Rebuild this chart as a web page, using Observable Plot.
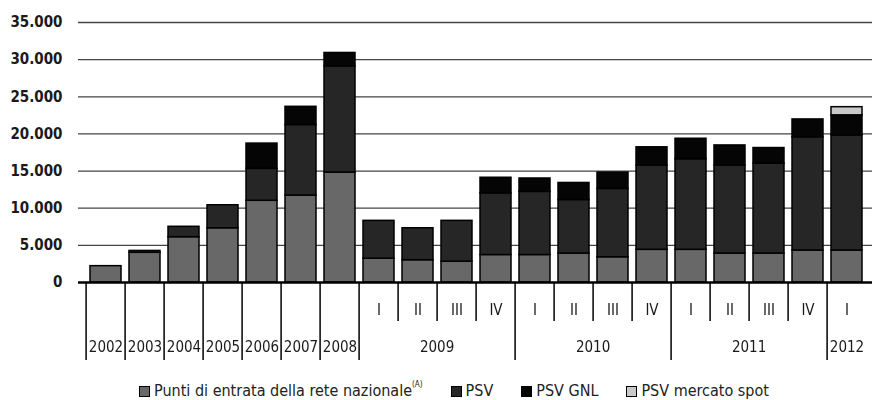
<!DOCTYPE html>
<html>
<head>
<meta charset="utf-8">
<script src="https://cdn.jsdelivr.net/npm/d3@7"></script>
<script src="https://cdn.jsdelivr.net/npm/@observablehq/plot@0.6"></script>
<style>
  html, body { margin: 0; padding: 0; background: #fff; }
  #chart svg { display: block; }
  .legend { display: flex; justify-content: center; align-items: center; gap: 28px; padding-left: 36px;
    margin-top: 21px; height: 16px; line-height: 16px;
    font-family: "DejaVu Sans Condensed", "DejaVu Sans", sans-serif; font-size: 16px; color: #222; }
  .legend span.item { display: inline-flex; align-items: center; }
  .legend i { display: inline-block; width: 9px; height: 9px; border: 1px solid #000; margin-right: 4px; }
  .legend sup { font-size: 8px; line-height: 8px; align-self: flex-start; margin-top: -2px; }
</style>
</head>
<body>
<div id="chart"></div>
<script>
// ---- data ----
const categories = ["2002","2003","2004","2005","2006","2007","2008",
  "2009-I","2009-II","2009-III","2009-IV",
  "2010-I","2010-II","2010-III","2010-IV",
  "2011-I","2011-II","2011-III","2011-IV",
  "2012-I"];
const yearOf = ["2002","2003","2004","2005","2006","2007","2008",
  "2009","2009","2009","2009","2010","2010","2010","2010","2011","2011","2011","2011","2012"];
const quarterOf = ["","","","","","","","I","II","III","IV","I","II","III","IV","I","II","III","IV","I"];
const seriesNames = ["Punti di entrata della rete nazionale", "PSV", "PSV GNL", "PSV mercato spot"];
const punti = [2200, 4000, 6100, 7300, 11000, 11700, 14800, 3200, 3000, 2800, 3700, 3700, 3900, 3400, 4400, 4400, 3900, 3900, 4300, 4300];
const psv   = [0, 250, 1400, 3100, 4300, 9500, 14300, 5100, 4300, 5500, 8300, 8500, 7200, 9200, 11350, 12200, 11850, 12100, 15250, 15500];
const gnl   = [0, 0, 0, 0, 3400, 2450, 1800, 0, 0, 0, 2100, 1800, 2300, 2200, 2450, 2750, 2700, 2100, 2400, 2700];
const spot  = [0, 0, 0, 0, 0, 0, 0, 0, 0, 0, 0, 0, 0, 0, 0, 0, 0, 0, 0, 1100];
const yTicks = [0, 5000, 10000, 15000, 20000, 25000, 30000, 35000];
const colors = ["#686868", "#262626", "#050505", "#c9c9c9"];

// ---- build ----
const seriesValues = [punti, psv, gnl, spot];
const long = [];
seriesValues.forEach((vals, s) => vals.forEach((v, i) => {
  if (v > 0) long.push({cat: categories[i], series: seriesNames[s], value: v});
}));

const font = '"DejaVu Sans Condensed", "DejaVu Sans", sans-serif';
const xRange = [78, 874];
const step = (xRange[1] - xRange[0]) / categories.length;
const fmt = d => d === 0 ? "0" : d3.format(",")(d).replace(/,/g, ".");

const mainPlot = Plot.plot({
  width: 872, height: 292,
  marginTop: 22, marginBottom: 10, marginLeft: 78, marginRight: 0,
  style: {fontFamily: font, fontSize: "15px", color: "#1a1a1a", background: "#fff"},
  x: {type: "band", domain: categories, range: xRange, padding: 0, axis: null},
  y: {domain: [0, 35000], ticks: yTicks, tickSize: 0, tickPadding: 16, tickFormat: fmt, label: null},
  color: {domain: seriesNames, range: colors},
  marks: [
    Plot.ruleY(yTicks.filter(d => d > 0), {stroke: "#444", strokeWidth: 1.3}),
    Plot.barY(long, {x: "cat", y: "value", fill: "series", order: seriesNames,
      stroke: "#000", strokeWidth: 1.5, insetLeft: 4, insetRight: 4}),
    Plot.ruleY([0], {stroke: "#000", strokeWidth: 2.5})
  ]
});
mainPlot.querySelectorAll('g[aria-label="y-axis tick label"] text, g[aria-label="y-axis"] text').forEach(t => t.setAttribute("font-weight", "bold"));

// table below the axis
const bounds = categories.map((c, i) => ({cat: c, full: quarterOf[i] === "" || quarterOf[i] === "I" }));
const quarters = categories.map((c, i) => ({cat: c, q: quarterOf[i]})).filter(d => d.q !== "");
const years = Array.from(d3.group(categories.map((c, i) => ({cat: c, y: yearOf[i]})), d => d.y),
  ([y, items]) => ({y, n: items.length, anchor: items[Math.floor(items.length / 2)].cat}));

const table = Plot.plot({
  width: 872, height: 80,
  marginTop: 0, marginBottom: 0, marginLeft: 78, marginRight: 0,
  style: {fontFamily: font, fontSize: "15px", color: "#1a1a1a", background: "transparent",
    marginTop: "-10px", position: "relative", willChange: "transform"},
  x: {type: "band", domain: categories, range: xRange, padding: 0, axis: null},
  y: {domain: [0, 2], range: [0, 78], axis: null},
  marks: [
    Plot.ruleX(bounds, {x: "cat", dx: -step / 2, y1: 0, y2: d => d.full ? 2 : 1, stroke: "#000", strokeWidth: 1.5}),
    Plot.text(quarters, {x: "cat", y: 0.72, text: "q", fill: "#1a1a1a"}),
    Plot.text(years.filter(d => d.n % 2 === 0), {x: "anchor", y: 1.65, dx: -step / 2, text: "y", fill: "#1a1a1a"}),
    Plot.text(years.filter(d => d.n % 2 === 1), {x: "anchor", y: 1.65, text: "y", fill: "#1a1a1a"})
  ]
});

const chart = document.getElementById("chart");
chart.append(mainPlot, table);

const legend = document.createElement("div");
legend.className = "legend";
seriesNames.forEach((name, i) => {
  const item = document.createElement("span");
  item.className = "item";
  const sw = document.createElement("i");
  sw.style.background = colors[i];
  item.append(sw, document.createTextNode(name));
  if (i === 0) { const s = document.createElement("sup"); s.textContent = "(A)"; item.append(s); }
  legend.append(item);
});
chart.append(legend);
</script>
</body>
</html>
